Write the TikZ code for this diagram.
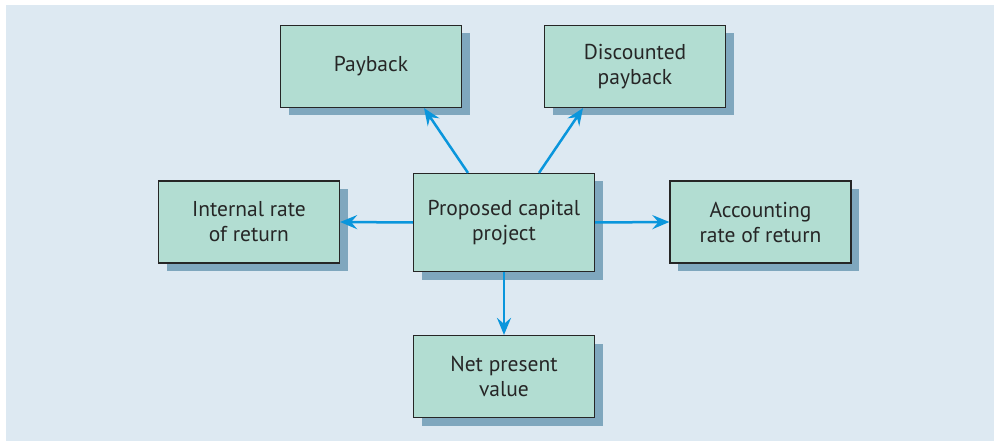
\documentclass[tikz,border=0pt]{standalone}
\usepackage{fontspec}
\setmainfont{PT Sans}
\usepackage{tikz}
\usetikzlibrary{arrows.meta, positioning, shadows}
\definecolor{panelbg}{HTML}{DDE9F2}
\definecolor{boxfill}{HTML}{B2DDD2}
\definecolor{boxshadow}{HTML}{7FA7BE}
\definecolor{linkblue}{HTML}{0A96DC}
\definecolor{inkgray}{HTML}{262626}
\begin{document}
\begin{tikzpicture}[x=1pt, y=-1pt,
  method/.style={draw=inkgray, line width=1.2pt, fill=boxfill, text=inkgray,
    minimum width=181pt, minimum height=82pt, align=center, inner sep=2pt,
    font=\fontsize{21.5}{25}\selectfont,
    general shadow={fill=boxshadow, draw=none, shadow xshift=8pt, shadow yshift=-8pt}},
  link/.style={draw=linkblue, line width=2.5pt, -{Stealth[length=17pt, width=14pt, inset=6pt]}}
]
\useasboundingbox (0,0) rectangle (994,441);
\fill[panelbg] (6,5) rectangle (994,441);
\node[method] (payback) at (371,66.5) {Payback};
\node[method] (discpay) at (635,66.5) {Discounted\\payback};
\node[method] (irr) at (249,222) {Internal rate\\of return};
\node[method, minimum height=98pt] (project) at (504,222.5) {Proposed capital\\project};
\node[method] (arr) at (760.5,222) {Accounting\\rate of return};
\node[method] (npv) at (504,376.5) {Net present\\value};
\draw[link] ([xshift=-36pt]project.north) -- ([xshift=53pt]payback.south);
\draw[link] ([xshift=35pt]project.north) -- ([xshift=-52pt]discpay.south);
\draw[link] (project.west) -- (irr.east);
\draw[link] (project.east) -- (arr.west);
\draw[link] (project.south) -- (npv.north);
\end{tikzpicture}
\end{document}
